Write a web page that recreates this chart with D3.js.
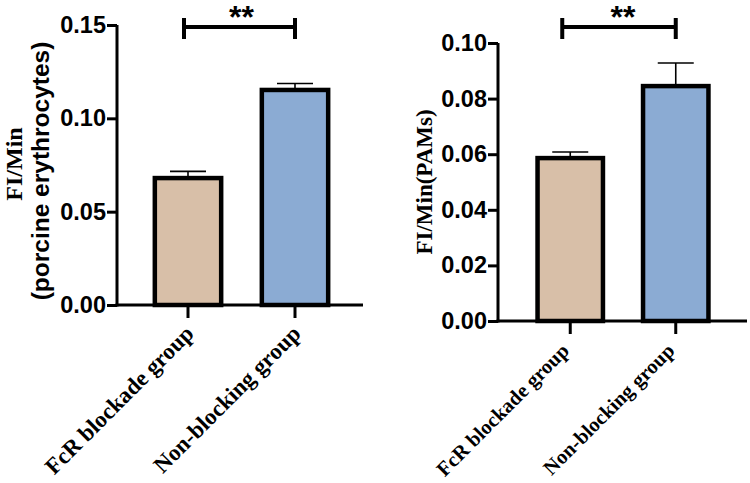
<!DOCTYPE html>
<html>
<head>
<meta charset="utf-8">
<script src="https://cdn.jsdelivr.net/npm/d3@7"></script>
<style>
  html, body { margin: 0; padding: 0; background: #fff; }
  svg { display: block; }
</style>
</head>
<body>
<svg id="chart" width="750" height="483"></svg>
<script>
// ---- data ----
const categories = ["FcR blockade group", "Non-blocking group"];
const barColors = ["#D8BFA8", "#8BABD3"];

const erythMeans = [0.068, 0.1152];
const erythErrors = [0.0036, 0.0035];
const erythTicks = [0.00, 0.05, 0.10, 0.15];

const pamMeans = [0.0586, 0.0845];
const pamErrors = [0.0022, 0.0083];
const pamTicks = [0.00, 0.02, 0.04, 0.06, 0.08, 0.10];

const sigLabel = "**";

const svg = d3.select("#chart");

function panel(cfg) {
  const g = svg.append("g");
  const y = d3.scaleLinear().domain(cfg.domain).range([cfg.y0, cfg.y1]);
  const x = d3.scaleBand().domain(categories).range(cfg.xRange)
    .paddingInner(0.38).paddingOuter(0.19);
  const cx = c => x(c) + x.bandwidth() / 2;

  // bars
  g.selectAll("rect.bar").data(cfg.means).enter().append("rect")
    .attr("x", (d, i) => x(categories[i]))
    .attr("y", d => y(d))
    .attr("width", x.bandwidth())
    .attr("height", d => y(0) - y(d))
    .attr("fill", (d, i) => barColors[i])
    .attr("stroke", "#000")
    .attr("stroke-width", 4.5);

  // error bars
  cfg.means.forEach((m, i) => {
    const c = cx(categories[i]);
    const top = y(m + cfg.errors[i]);
    g.append("line").attr("x1", c).attr("x2", c)
      .attr("y1", y(m) - 2).attr("y2", top)
      .attr("stroke", "#000").attr("stroke-width", 1.6);
    g.append("line").attr("x1", c - 18).attr("x2", c + 18)
      .attr("y1", top).attr("y2", top)
      .attr("stroke", "#000").attr("stroke-width", 1.6);
  });

  // y axis
  const yAxis = d3.axisLeft(y).tickValues(cfg.ticks)
    .tickFormat(d3.format(cfg.fmt)).tickSize(10).tickSizeOuter(0);
  const ya = g.append("g").attr("transform", `translate(${cfg.xAxisX},0)`).call(yAxis);
  ya.select(".domain").attr("stroke", "#000").attr("stroke-width", 3)
    .attr("d", `M0,${y(0) + 1.5}V${y(cfg.domain[1])}`);
  ya.selectAll(".tick line").attr("stroke", "#000").attr("stroke-width", 3);
  ya.selectAll(".tick text")
    .attr("x", -11)
    .attr("font-family", "Liberation Sans, Arial, sans-serif")
    .attr("font-weight", "bold")
    .attr("font-size", 23.5)
    .attr("fill", "#000");

  // x axis
  g.append("line").attr("x1", cfg.xAxisX - 1.5).attr("x2", cfg.xEnd)
    .attr("y1", y(0)).attr("y2", y(0))
    .attr("stroke", "#000").attr("stroke-width", 3);
  categories.forEach((c, i) => {
    const px = cx(c);
    g.append("line").attr("x1", px).attr("x2", px)
      .attr("y1", y(0)).attr("y2", y(0) + 13)
      .attr("stroke", "#000").attr("stroke-width", 3);
    g.append("text")
      .attr("transform", `translate(${px + cfg.labelDx},${y(0) + cfg.labelDy}) rotate(-45)`)
      .attr("text-anchor", "end")
      .attr("font-family", "Liberation Serif, Times New Roman, serif")
      .attr("font-weight", "bold")
      .attr("font-size", cfg.labelSize)
      .attr("fill", "#000")
      .text(c);
  });

  // significance bracket
  const bx1 = cx(categories[0]) + cfg.bracketShift;
  const bx2 = cx(categories[1]);
  const by = 27;
  g.append("path")
    .attr("d", `M${bx1},${by - 9}V${by + 12}M${bx1},${by}H${bx2}M${bx2},${by - 9}V${by + 12}`)
    .attr("fill", "none").attr("stroke", "#000").attr("stroke-width", 4);
  g.append("text")
    .attr("x", (cx(categories[0]) + cx(categories[1])) / 2)
    .attr("y", 28)
    .attr("text-anchor", "middle")
    .attr("font-family", "Liberation Sans, Arial, sans-serif")
    .attr("font-weight", "bold")
    .attr("font-size", 32)
    .attr("fill", "#000")
    .text(sigLabel);

  return { g, y };
}

// left panel
const left = panel({
  domain: [0, 0.15], y0: 305, y1: 25,
  xRange: [134.5, 348.5], xAxisX: 117, xEnd: 363,
  means: erythMeans, errors: erythErrors, ticks: erythTicks, fmt: ".2f",
  bracketShift: -4, labelDx: 7, labelDy: 30, labelSize: 23
});
left.g.append("text")
  .attr("transform", "translate(22,164) rotate(-90)")
  .attr("text-anchor", "middle")
  .attr("font-family", "Liberation Serif, Times New Roman, serif")
  .attr("font-weight", "bold").attr("font-size", 24).attr("fill", "#000")
  .text("FI/Min");
left.g.append("text")
  .attr("transform", "translate(49,171) rotate(-90)")
  .attr("text-anchor", "middle")
  .attr("font-family", "Liberation Sans, Arial, sans-serif")
  .attr("font-weight", "bold").attr("font-size", 24.5).attr("fill", "#000")
  .text("(porcine erythrocytes)");

// right panel
const right = panel({
  domain: [0, 0.10], y0: 321, y1: 43,
  xRange: [517.5, 728.5], xAxisX: 498, xEnd: 747,
  means: pamMeans, errors: pamErrors, ticks: pamTicks, fmt: ".2f",
  bracketShift: -8, labelDx: 0, labelDy: 31, labelSize: 20.5
});
right.g.append("text")
  .attr("transform", "translate(432,182) rotate(-90)")
  .attr("text-anchor", "middle")
  .attr("font-family", "Liberation Serif, Times New Roman, serif")
  .attr("font-weight", "bold").attr("font-size", 23).attr("fill", "#000")
  .text("FI/Min(PAMs)");
</script>
</body>
</html>
